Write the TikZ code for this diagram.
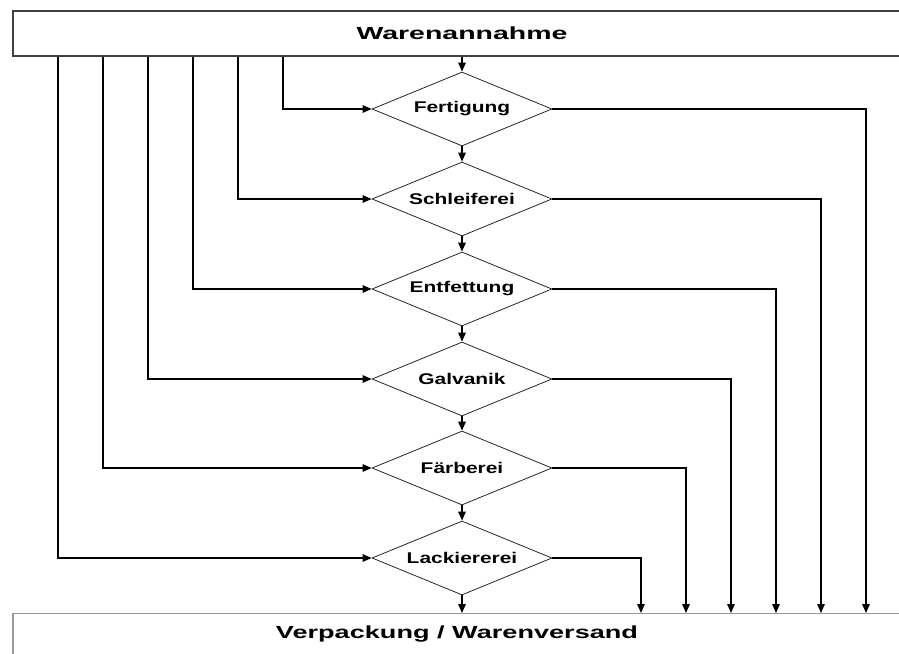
\documentclass[tikz,border=0pt]{standalone}
\usepackage{fontspec}
\setmainfont{Liberation Sans}
\usetikzlibrary{shapes.geometric,arrows.meta}
\begin{document}
\begin{tikzpicture}[x=1pt,y=-1pt,
  conn/.style={line width=1.4pt,black},
  arr/.style={conn,-{Triangle[length=9pt,width=7.5pt]}},
  step box/.style={diamond,shape aspect=2.43,draw=black!85,line width=0.8pt,minimum width=180pt,minimum height=74pt,inner sep=0pt,
     font=\fontsize{15.5}{18}\selectfont\bfseries},
  header/.style={rectangle,inner sep=0pt,font=\fontsize{17.5}{20}\selectfont\bfseries}]
\useasboundingbox (0,0) rectangle (899,653);
\begin{scope}
\clip (0,0) rectangle (899,653);
\node[header,draw=black!75,line width=1.2pt,minimum width=898pt,minimum height=45pt] (top) at (462,33.5) {\resizebox{211pt}{\height}{Warenannahme}};
\node[header,draw=black!40,line width=1.4pt,minimum width=888pt,minimum height=50pt,anchor=north] (bot) at (457,613) {};
\end{scope}
\node[font=\fontsize{17.5}{20}\selectfont\bfseries,inner sep=0pt] (bottext) at (457,634) {\resizebox{362pt}{\height}{Verpackung / Warenversand}};

\node[step box] (d1) at (462,109) {\scalebox{1.35}[1]{Fertigung}};
\node[step box] (d2) at (462,199) {\scalebox{1.35}[1]{Schleiferei}};
\node[step box] (d3) at (462,289) {\scalebox{1.35}[1]{Entfettung}};
\node[step box] (d4) at (462,379) {\scalebox{1.35}[1]{Galvanik}};
\node[step box] (d5) at (462,468) {\scalebox{1.35}[1]{Färberei}};
\node[step box] (d6) at (462,558) {\scalebox{1.35}[1]{Lackiererei}};

\coordinate (l1) at (283,0);
\coordinate (l2) at (238,0);
\coordinate (l3) at (193,0);
\coordinate (l4) at (148,0);
\coordinate (l5) at (103,0);
\coordinate (l6) at (58,0);
\coordinate (r1) at (866,0);
\coordinate (r2) at (821,0);
\coordinate (r3) at (776,0);
\coordinate (r4) at (731,0);
\coordinate (r5) at (686,0);
\coordinate (r6) at (641,0);

\draw[arr] (top.south -| d1.north) -- (d1.north);
\draw[arr] (d1.south) -- (d2.north);
\draw[arr] (d2.south) -- (d3.north);
\draw[arr] (d3.south) -- (d4.north);
\draw[arr] (d4.south) -- (d5.north);
\draw[arr] (d5.south) -- (d6.north);
\draw[arr] (d6.south) -- (bot.north -| d6.south);

\foreach \i in {1,...,6}{
  \draw[arr] (top.south -| l\i) |- (d\i.west);
  \draw[arr] (d\i.east) -| (r\i |- bot.north);
}
\end{tikzpicture}
\end{document}
